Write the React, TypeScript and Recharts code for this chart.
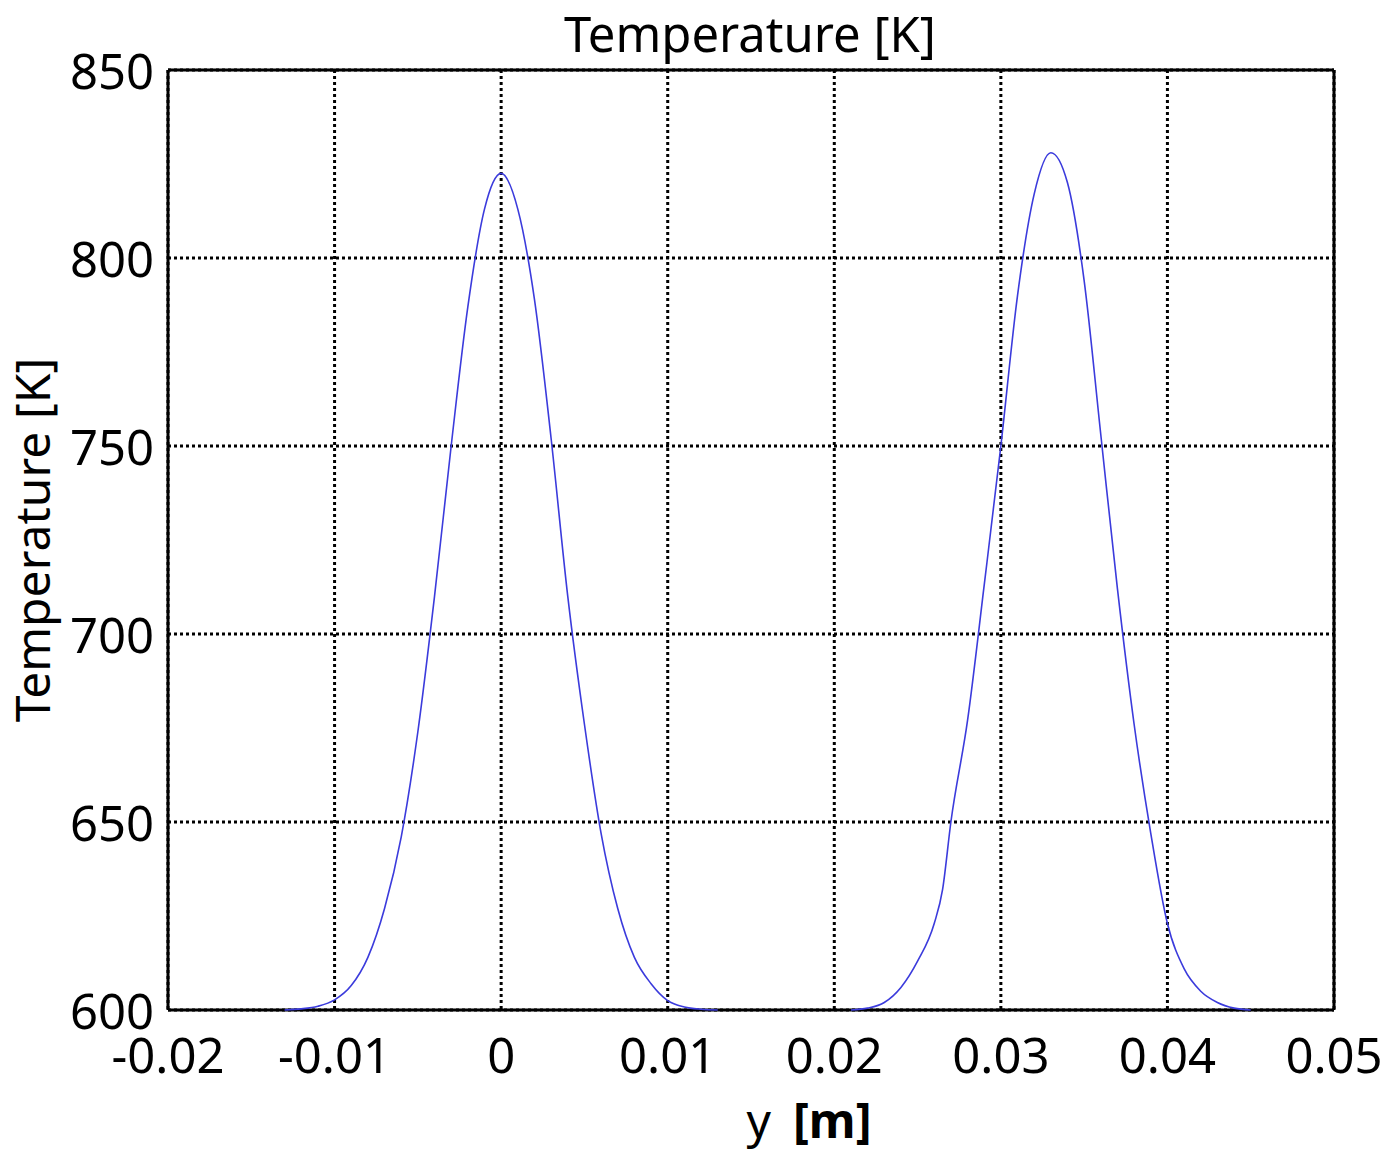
import { LineChart, Line, XAxis, YAxis, CartesianGrid, ReferenceLine } from 'recharts';

const leftY = [-0.013, -0.012, -0.011, -0.01, -0.009, -0.008, -0.007, -0.006, -0.005, -0.004, -0.003, -0.002, -0.001, 0, 0.001, 0.002, 0.003, 0.004, 0.005, 0.006, 0.007, 0.008, 0.009, 0.01, 0.011, 0.012, 0.013];
const leftT = [600, 600.3, 601, 602.7, 606.5, 614, 627, 646, 674, 710, 750, 787, 813, 822.5, 813, 789, 752, 710, 676, 647, 627, 614, 607, 602.5, 600.8, 600.2, 600];

const rightY = [0.021, 0.022, 0.023, 0.024, 0.025, 0.026, 0.0265, 0.027, 0.028, 0.029, 0.03, 0.031, 0.032, 0.033, 0.034, 0.035, 0.036, 0.037, 0.038, 0.039, 0.04, 0.041, 0.042, 0.043, 0.044, 0.045];
const rightT = [600, 600.5, 602, 606, 613, 623, 632, 650, 677, 713, 750, 790, 817, 828, 820, 794, 753, 712, 676, 647, 623, 611, 605, 602, 600.5, 600];

const xTicks = [-0.02, -0.01, 0, 0.01, 0.02, 0.03, 0.04, 0.05];
const yTicks = [600, 650, 700, 750, 800, 850];

const leftData = leftY.map((y, i) => ({ y, t: leftT[i] }));
const rightData = rightY.map((y, i) => ({ y, t: rightT[i] }));

const font = '"Noto Sans", sans-serif';
const tickStyle = { fontSize: 49, fill: '#000', fontFamily: font };

const XLabel = ({ viewBox }: any) => {
  const { x, y, width } = viewBox;
  return (
    <text x={x + width / 2 + 58} y={y + 128} textAnchor="middle" fontFamily={font} fontSize={48} fill="#000">
      <tspan>y</tspan>
      <tspan dx={22} fontWeight="bold">[m]</tspan>
    </text>
  );
};

export default function App() {
  return (
    <div style={{ width: 1390, height: 1160, margin: -8, background: '#fff' }}>
      <LineChart width={1390} height={1160} margin={{ top: 70, right: 56, left: 0, bottom: 70 }}>
        <text x={750} y={52} textAnchor="middle" fontFamily={font} fontSize={49} fill="#000">
          Temperature [K]
        </text>
        <CartesianGrid stroke="#000" strokeWidth={3} strokeDasharray="3 3" />
        <XAxis
          type="number"
          dataKey="y"
          domain={[-0.02, 0.05]}
          ticks={xTicks}
          allowDataOverflow
          axisLine={false}
          tickLine={false}
          tick={tickStyle}
          tickMargin={22}
          height={80}
          interval={0}
          label={<XLabel />}
        />
        <YAxis
          type="number"
          domain={[600, 850]}
          ticks={yTicks}
          axisLine={false}
          tickLine={false}
          tick={{ ...tickStyle, dy: 2 }}
          tickMargin={8}
          width={168}
          interval={0}
          label={{
            value: 'Temperature [K]',
            angle: -90,
            position: 'insideLeft',
            dx: 28,
            style: { fontSize: 48, fill: '#000', fontFamily: font, textAnchor: 'middle' },
          }}
        />
        <ReferenceLine x={-0.02} stroke="#000" strokeWidth={3} />
        <ReferenceLine x={0.05} stroke="#000" strokeWidth={3} />
        <ReferenceLine y={600} stroke="#000" strokeWidth={3} />
        <ReferenceLine y={850} stroke="#000" strokeWidth={3} />
        <Line data={leftData} dataKey="t" type="monotone" stroke="#3b3bdc" strokeWidth={1.6} dot={false} isAnimationActive={false} />
        <Line data={rightData} dataKey="t" type="monotone" stroke="#3b3bdc" strokeWidth={1.6} dot={false} isAnimationActive={false} />
      </LineChart>
    </div>
  );
}
